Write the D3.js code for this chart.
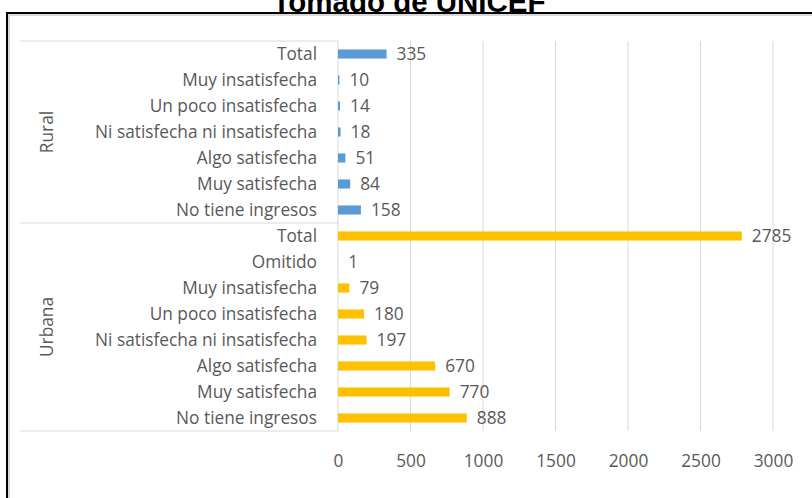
<!DOCTYPE html>
<html>
<head>
<meta charset="utf-8">
<script src="https://cdn.jsdelivr.net/npm/d3@7"></script>
<style>
  body { margin: 0; background: #fff; }
  svg { display: block; }
  text { font-family: "Open Sans", Lato, sans-serif; fill: #595959; }
</style>
</head>
<body>
<div id="chart"></div>
<script>
// categories listed bottom -> top, as in the source table
const ruralCats = ['No tiene ingresos', 'Muy satisfecha', 'Algo satisfecha', 'Ni satisfecha ni insatisfecha', 'Un poco insatisfecha', 'Muy insatisfecha', 'Total']
const ruralVals = [158, 84, 51, 18, 14, 10, 335]
const urbanCats = ['No tiene ingresos', 'Muy satisfecha', 'Algo satisfecha', 'Ni satisfecha ni insatisfecha', 'Un poco insatisfecha', 'Muy insatisfecha', 'Omitido', 'Total']
const urbanVals = [888, 770, 670, 197, 180, 79, 1, 2785]
const groups = ['Rural', 'Urbana']
const groupColors = ['#5B9BD5', '#FFC000']
const xTicks = [0, 500, 1000, 1500, 2000, 2500, 3000]

const width = 812
const height = 498
const fs = '17.3px'

// rows top -> bottom
const rural = ruralCats.map((c, i) => ({ group: 'Rural', cat: c, value: ruralVals[i] })).reverse()
const urban = urbanCats.map((c, i) => ({ group: 'Urbana', cat: c, value: urbanVals[i] })).reverse()
const data = rural.concat(urban)

const svg = d3.select('#chart').append('svg')
  .attr('width', width)
  .attr('height', height)

// title, partly cut off at the top like the source
svg.append('text')
  .attr('x', 409)
  .attr('y', 11.5)
  .attr('text-anchor', 'middle')
  .style('font-family', '"Liberation Sans", Arial, sans-serif')
  .style('font-weight', 'bold')
  .style('font-size', '29.5px')
  .style('fill', '#000')
  .text('Tomado de UNICEF')

// frame
svg.append('rect')
  .attr('x', 9).attr('y', 15)
  .attr('width', width + 20).attr('height', height + 20)
  .attr('fill', 'none')
  .attr('stroke', '#d9d9d9')
  .attr('stroke-width', 2)
svg.append('rect')
  .attr('x', 7).attr('y', 13)
  .attr('width', width + 20).attr('height', height + 20)
  .attr('fill', 'none')
  .attr('stroke', '#000')
  .attr('stroke-width', 2)

const x = d3.scaleLinear().domain([0, 3000]).range([338, 773])
const y = d3.scaleBand()
  .domain(data.map(d => d.group + '|' + d.cat))
  .range([41, 431])
  .paddingInner(0.65)
  .paddingOuter(0.325)

const key = d => d.group + '|' + d.cat
const step = y.step()

// gridlines
svg.append('g')
  .selectAll('line')
  .data(xTicks.slice(1))
  .enter()
  .append('line')
  .attr('x1', d => x(d)).attr('x2', d => x(d))
  .attr('y1', 41).attr('y2', 431)
  .attr('stroke', '#d9d9d9')

// category axis line and group separators
svg.append('line')
  .attr('x1', x(0)).attr('x2', x(0))
  .attr('y1', 41).attr('y2', 431)
  .attr('stroke', '#d9d9d9')

const sepY = [41, 41 + step * rural.length, 431]
svg.append('g')
  .selectAll('line')
  .data(sepY)
  .enter()
  .append('line')
  .attr('x1', 20).attr('x2', x(0))
  .attr('y1', d => d).attr('y2', d => d)
  .attr('stroke', '#d9d9d9')

// bars
svg.append('g')
  .selectAll('rect')
  .data(data)
  .enter()
  .append('rect')
  .attr('x', x(0))
  .attr('y', d => y(key(d)))
  .attr('width', d => x(d.value) - x(0))
  .attr('height', y.bandwidth())
  .attr('fill', d => groupColors[groups.indexOf(d.group)])

// value labels
svg.append('g')
  .selectAll('text')
  .data(data)
  .enter()
  .append('text')
  .attr('x', d => x(d.value) + 10)
  .attr('y', d => y(key(d)) + y.bandwidth() / 2)
  .attr('dy', '0.36em')
  .style('font-size', fs)
  .text(d => d.value)

// category labels
svg.append('g')
  .selectAll('text')
  .data(data)
  .enter()
  .append('text')
  .attr('x', 317)
  .attr('y', d => y(key(d)) + y.bandwidth() / 2)
  .attr('dy', '0.36em')
  .attr('text-anchor', 'end')
  .style('font-size', fs)
  .text(d => d.cat)

// group labels
const groupMid = [(sepY[0] + sepY[1]) / 2, (sepY[1] + sepY[2]) / 2]
svg.append('g')
  .selectAll('text')
  .data(groups)
  .enter()
  .append('text')
  .attr('transform', (d, i) => `translate(53,${groupMid[i]}) rotate(-90)`)
  .attr('text-anchor', 'middle')
  .style('font-size', fs)
  .text(d => d)

// x axis labels
const xAxis = d3.axisBottom(x).tickValues(xTicks).tickFormat(d3.format('d')).tickSize(0).tickPadding(0)
const ax = svg.append('g')
  .attr('transform', 'translate(0,455)')
  .call(xAxis)
ax.select('.domain').remove()
ax.selectAll('text')
  .style('font-size', fs)
  .style('font-family', '"Open Sans", Lato, sans-serif')
  .attr('fill', '#595959')
</script>
</body>
</html>
